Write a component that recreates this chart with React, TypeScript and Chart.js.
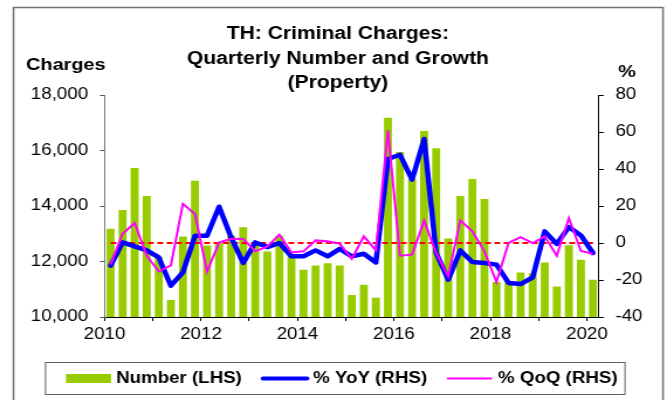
import React, { useEffect, useRef } from 'react';
import { Chart, registerables } from 'chart.js';

Chart.register(...registerables);

// ---------------- data ----------------
const quarters: string[] = [
  '2010Q1', '2010Q2', '2010Q3', '2010Q4',
  '2011Q1', '2011Q2', '2011Q3', '2011Q4',
  '2012Q1', '2012Q2', '2012Q3', '2012Q4',
  '2013Q1', '2013Q2', '2013Q3', '2013Q4',
  '2014Q1', '2014Q2', '2014Q3', '2014Q4',
  '2015Q1', '2015Q2', '2015Q3', '2015Q4',
  '2016Q1', '2016Q2', '2016Q3', '2016Q4',
  '2017Q1', '2017Q2', '2017Q3', '2017Q4',
  '2018Q1', '2018Q2', '2018Q3', '2018Q4',
  '2019Q1', '2019Q2', '2019Q3', '2019Q4',
  '2020Q1',
];

const xTickYears: string[] = ['2010', '2012', '2014', '2016', '2018', '2020'];

// Number of charges (LHS)
const numberCharges: number[] = [
  13180, 13860, 15370, 14360,
  12150, 10610, 12900, 14910,
  12580, 12660, 12940, 13230,
  12630, 12360, 12930, 12250,
  11700, 11860, 11940, 11860,
  10790, 11160, 10690, 17180,
  15950, 14960, 16700, 16080,
  12830, 14360, 14970, 14250,
  11260, 11260, 11600, 11580,
  11960, 11100, 12590, 12060,
  11340,
];

// % YoY (RHS)
const yoyPct: number[] = [
  -12.3, 0.3, -1.8, -4.0,
  -7.8, -23.1, -15.9, 3.9,
  3.9, 19.6, 3.0, -10.8,
  0.3, -2.2, 0.0, -7.2,
  -7.2, -4.0, -7.2, -3.2,
  -7.2, -5.8, -10.5, 45.4,
  47.7, 34.2, 56.2, -5.4,
  -19.8, -4.0, -10.3, -10.8,
  -11.7, -21.6, -22.2, -18.6,
  6.3, -0.5, 8.6, 4.1,
  -5.4,
];

// % QoQ (RHS)
const qoqPct: number[] = [
  -11.7, 5.0, 10.8, -6.9,
  -15.4, -12.1, 21.2, 15.7,
  -15.4, 0.3, 2.3, 2.2,
  -4.5, -1.8, 4.5, -5.1,
  -4.5, 1.4, 0.9, -0.4,
  -8.6, 3.6, -4.0, 60.9,
  -6.9, -6.3, 12.1, -5.4,
  -18.0, 12.2, 6.3, -4.5,
  -21.1, 0.0, 3.2, 0.0,
  3.6, -6.9, 13.5, -4.3,
  -5.8,
];

const referencePct = 0; // red dashed reference line on the RHS axis

const titleLines: string[] = ['TH: Criminal Charges:', 'Quarterly Number and Growth', '(Property)'];
const leftAxisUnit = 'Charges';
const rightAxisUnit = '%';

// ---------------- styling ----------------
const W = 570;
const H = 400;
const SX = 667 / W; // horizontal stretch of the reference picture
const px = (refX: number) => refX / SX;
const FONT = '"Liberation Sans", Arial, Helvetica, sans-serif';

const AREA_LEFT = px(104.5);
const AREA_RIGHT = px(599);
const CAT_W = (AREA_RIGHT - AREA_LEFT) / quarters.length;

export default function App() {
  const ref = useRef<HTMLCanvasElement>(null);

  useEffect(() => {
    const canvas = ref.current;
    if (!canvas) return;

    const overlay = {
      id: 'overlay',
      beforeDraw(chart: any) {
        const { ctx } = chart;
        ctx.save();
        ctx.fillStyle = '#ffffff';
        ctx.fillRect(0, 0, chart.width, chart.height);
        ctx.strokeStyle = '#707070';
        ctx.lineWidth = 1.5;
        ctx.strokeRect(px(13.5), 7.5, px(663) - px(13.5), 430);
        ctx.restore();
      },
      afterDatasetDraw(chart: any, args: any) {
        if (args.index !== 0) return;
        const { ctx } = chart;
        const xs = chart.scales.x;
        const ys = chart.scales.y1;
        const yy = ys.getPixelForValue(referencePct);
        ctx.save();
        ctx.strokeStyle = '#ff0000';
        ctx.lineWidth = 2;
        ctx.setLineDash([5, 3]);
        ctx.beginPath();
        ctx.moveTo(xs.getPixelForValue(0), yy);
        ctx.lineTo(xs.getPixelForValue(quarters.length - 1), yy);
        ctx.stroke();
        ctx.restore();
      },
      afterDraw(chart: any) {
        const { ctx } = chart;
        ctx.save();
        ctx.fillStyle = '#000000';
        // title
        ctx.font = `bold 18px ${FONT}`;
        ctx.textAlign = 'center';
        ctx.textBaseline = 'middle';
        const tY = [34, 59, 83];
        titleLines.forEach((t, i) => ctx.fillText(t, px(338), tY[i]));
        // axis units
        ctx.font = `bold 17px ${FONT}`;
        ctx.textAlign = 'left';
        ctx.fillText(leftAxisUnit, px(26), 65);
        ctx.fillText(rightAxisUnit, px(618), 72);

        // legend
        const ds = chart.data.datasets;
        const top = 362.5;
        const bottom = 394.5;
        const cy = (top + bottom) / 2;
        ctx.strokeStyle = '#606060';
        ctx.lineWidth = 1;
        ctx.strokeRect(px(45.5), top, px(625) - px(45.5), bottom - top);
        ctx.font = `bold 16px ${FONT}`;
        ctx.textBaseline = 'middle';
        // bar entry
        ctx.fillStyle = ds[0].backgroundColor;
        ctx.fillRect(px(66), cy - 4.5, px(111) - px(66), 9);
        ctx.fillStyle = '#000';
        ctx.fillText(ds[0].label, px(116), cy);
        // yoy entry
        ctx.strokeStyle = ds[1].borderColor;
        ctx.lineWidth = 4;
        ctx.lineCap = 'round';
        ctx.beginPath();
        ctx.moveTo(px(263), cy);
        ctx.lineTo(px(307), cy);
        ctx.stroke();
        ctx.fillText(ds[1].label, px(313), cy);
        // qoq entry
        ctx.strokeStyle = ds[2].borderColor;
        ctx.lineWidth = 2;
        ctx.lineCap = 'butt';
        ctx.beginPath();
        ctx.moveTo(px(447), cy);
        ctx.lineTo(px(492), cy);
        ctx.stroke();
        ctx.fillText(ds[2].label, px(498), cy);
        ctx.restore();
      },
    };

    const tickFont = { family: FONT, size: 16 };

    const chart = new Chart(canvas, {
      type: 'bar',
      data: {
        labels: quarters,
        datasets: [
          {
            type: 'bar',
            label: 'Number (LHS)',
            data: numberCharges,
            backgroundColor: '#99cc00',
            borderWidth: 0,
            yAxisID: 'y',
            order: 2,
            barPercentage: 0.66,
            categoryPercentage: 1,
          },
          {
            type: 'line',
            label: '% YoY (RHS)',
            data: yoyPct,
            borderColor: '#0000ff',
            backgroundColor: '#0000ff',
            borderWidth: 4.5,
            pointRadius: 0,
            tension: 0,
            borderJoinStyle: 'round',
            borderCapStyle: 'round',
            yAxisID: 'y1',
            order: 1,
          },
          {
            type: 'line',
            label: '% QoQ (RHS)',
            data: qoqPct,
            borderColor: '#ff00ff',
            backgroundColor: '#ff00ff',
            borderWidth: 2,
            pointRadius: 0,
            tension: 0,
            yAxisID: 'y1',
            order: 0,
          },
        ],
      } as any,
      options: {
        responsive: false,
        animation: false,
        devicePixelRatio: 1,
        layout: { padding: { top: 95, bottom: 58, left: 0, right: 0 } },
        plugins: {
          legend: { display: false },
          title: { display: false },
          tooltip: { enabled: false },
        },
        scales: {
          x: {
            type: 'category',
            offset: true,
            grid: {
              offset: true,
              drawOnChartArea: false,
              drawTicks: true,
              tickLength: 4,
              color: (c: any) => (c.index !== undefined && c.index % 4 === 0 ? '#000000' : 'rgba(0,0,0,0)'),
            },
            border: { display: true, color: '#000000', width: 1 },
            ticks: {
              autoSkip: false,
              maxRotation: 0,
              minRotation: 0,
              padding: 4,
              labelOffset: -CAT_W / 2,
              color: '#000000',
              font: tickFont,
              callback: (_v: any, i: number) => {
                const q = quarters[i];
                const yr = q.slice(0, 4);
                return q.endsWith('Q1') && xTickYears.includes(yr) ? yr : '';
              },
            },
            afterFit: (s: any) => {
              s.height = 25;
            },
          },
          y: {
            position: 'left',
            min: 10000,
            max: 18000,
            grid: { drawOnChartArea: false, drawTicks: true, tickLength: 4, color: '#555555' },
            border: { display: true, color: '#777777', width: 1 },
            ticks: {
              stepSize: 2000,
              padding: 10,
              color: '#000000',
              font: tickFont,
              callback: (v: any) => Number(v).toLocaleString('en-US'),
            },
            afterFit: (s: any) => {
              s.width = AREA_LEFT;
            },
          },
          y1: {
            position: 'right',
            min: -40,
            max: 80,
            grid: { drawOnChartArea: false, drawTicks: true, tickLength: 4, color: '#000000' },
            border: { display: true, color: '#000000', width: 1 },
            ticks: {
              stepSize: 20,
              padding: 10,
              color: '#000000',
              font: tickFont,
            },
            afterFit: (s: any) => {
              s.width = W - AREA_RIGHT;
            },
          },
        },
      } as any,
      plugins: [overlay],
    });

    return () => chart.destroy();
  }, []);

  return (
    <div
      style={{
        position: 'fixed',
        left: 0,
        top: 0,
        width: 667,
        height: 400,
        overflow: 'hidden',
        background: '#ffffff',
      }}
    >
      <div style={{ width: W, height: H, transform: `scaleX(${SX})`, transformOrigin: '0 0' }}>
        <canvas ref={ref} width={W} height={H} style={{ display: 'block' }} />
      </div>
    </div>
  );
}
